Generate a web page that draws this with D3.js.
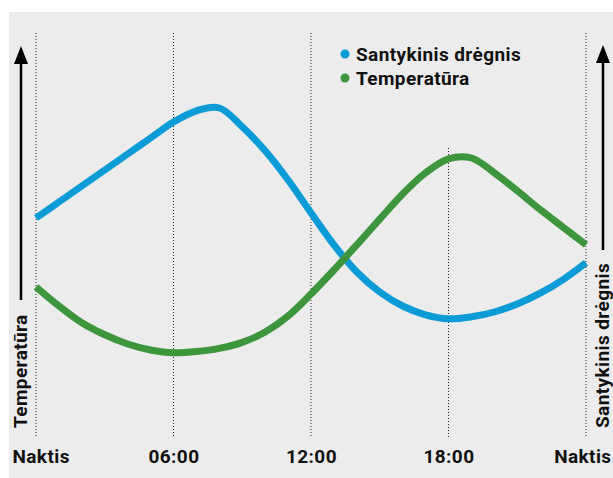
<!DOCTYPE html>
<html>
<head>
<meta charset="utf-8">
<script src="https://cdn.jsdelivr.net/npm/d3@7"></script>
<style>
  body { margin: 0; background: #fff; }
  svg text { font-family: Roboto, "Liberation Sans", sans-serif; font-weight: 700; fill: #111; letter-spacing: 0.4px; }
</style>
</head>
<body>
<div id="chart"></div>
<script>
// hours of the day, 0 = midnight, 24 = next midnight
var hours = d3.range(0, 25);
var tickHours = [0, 6, 12, 18, 24];
var tickLabels = ["Naktis", "06:00", "12:00", "18:00", "Naktis"];

// relative level (0..100)
var humidity = [54.5, 58.5, 62.5, 66.5, 70.5, 74.5, 78.5, 81.3, 82, 77.3, 71.3, 64, 55.8,
                47.8, 41, 36, 32.5, 30.3, 29.3, 29.8, 31.0, 33.0, 35.7, 39.1, 43.3];
var temperature = [37.3, 32.5, 28.3, 25.3, 23, 21.5, 20.8, 21.1, 21.9, 23.4, 26, 30, 35.5,
                   41.5, 47.8, 54.2, 60.5, 65.8, 69.3, 69.5, 65.8, 61.3, 56.6, 52.2, 47.8];

var seriesNames = ["Santykinis drėgnis", "Temperatūra"];
var seriesColors = ["#0b9bd7", "#3d953c"];

var W = 613, H = 478;
var svg = d3.select("#chart").append("svg")
    .attr("width", W)
    .attr("height", H);

svg.append("rect")
    .attr("x", 9).attr("y", 12)
    .attr("width", W - 9).attr("height", H - 12)
    .attr("fill", "#ececec");

var x = d3.scaleLinear().domain([0, 24]).range([36, 586]);
var y = d3.scaleLinear().domain([0, 100]).range([436, 36]);

// dotted vertical guides
svg.selectAll("line.guide").data(tickHours).enter()
    .append("line")
    .attr("class", "guide")
    .attr("x1", function(d) { return x(d); })
    .attr("x2", function(d) { return x(d); })
    .attr("y1", function(d) { return d === 18 ? 148 : 33; })
    .attr("y2", 437)
    .attr("stroke", "#222")
    .attr("stroke-width", 1)
    .attr("stroke-dasharray", "1,2");

// x axis, labels only
var xAxis = d3.axisBottom(x)
    .tickValues(tickHours)
    .tickSize(0)
    .tickFormat(function(d, i) { return tickLabels[i]; });
var gx = svg.append("g")
    .attr("transform", "translate(0,446)")
    .call(xAxis);
gx.select(".domain").remove();
gx.selectAll("text")
    .attr("font-size", 19)
    .attr("font-family", "Roboto, sans-serif")
    .attr("font-weight", 700)
    .attr("fill", "#111")
    .attr("text-anchor", function(d, i) {
        return i === 0 ? "start" : (i === tickHours.length - 1 ? "end" : "middle");
    })
    .attr("dx", function(d, i) {
        return i === 0 ? -24 : (i === tickHours.length - 1 ? 25 : 0);
    });

// lines
var line = d3.line()
    .x(function(d, i) { return x(hours[i]); })
    .y(function(d) { return y(d); })
    .curve(d3.curveCatmullRom.alpha(0.5));

[humidity, temperature].forEach(function(vals, k) {
    svg.append("path")
        .datum(vals)
        .attr("d", line)
        .attr("fill", "none")
        .attr("stroke", seriesColors[k])
        .attr("stroke-width", 7)
        .attr("stroke-linejoin", "round");
});

// axis arrows
function arrowAxis(ax, yTop, yBottom, label, textBottom) {
    svg.append("line")
        .attr("x1", ax).attr("x2", ax)
        .attr("y1", yBottom).attr("y2", yTop + 10)
        .attr("stroke", "#000")
        .attr("stroke-width", 2.5);
    svg.append("path")
        .attr("d", "M" + (ax - 7) + "," + (yTop + 18) + " L" + ax + "," + yTop + " L" + (ax + 7) + "," + (yTop + 18) + " Z")
        .attr("fill", "#000");
    svg.append("text")
        .attr("transform", "translate(" + (ax + 6) + "," + textBottom + ") rotate(-90)")
        .attr("font-size", 19)
        .attr("letter-spacing", 0.9)
        .text(label);
}
arrowAxis(21, 46, 300, seriesNames[1], 428);
arrowAxis(603, 45, 250, seriesNames[0], 428);

// legend
var legend = svg.append("g").attr("transform", "translate(345,54)");
seriesNames.forEach(function(name, i) {
    var g = legend.append("g").attr("transform", "translate(0," + (i * 24) + ")");
    g.append("circle").attr("r", 4.5).attr("fill", seriesColors[i]);
    g.append("text").attr("x", 11).attr("y", 6.5).attr("font-size", 19).text(name);
});
</script>
</body>
</html>
